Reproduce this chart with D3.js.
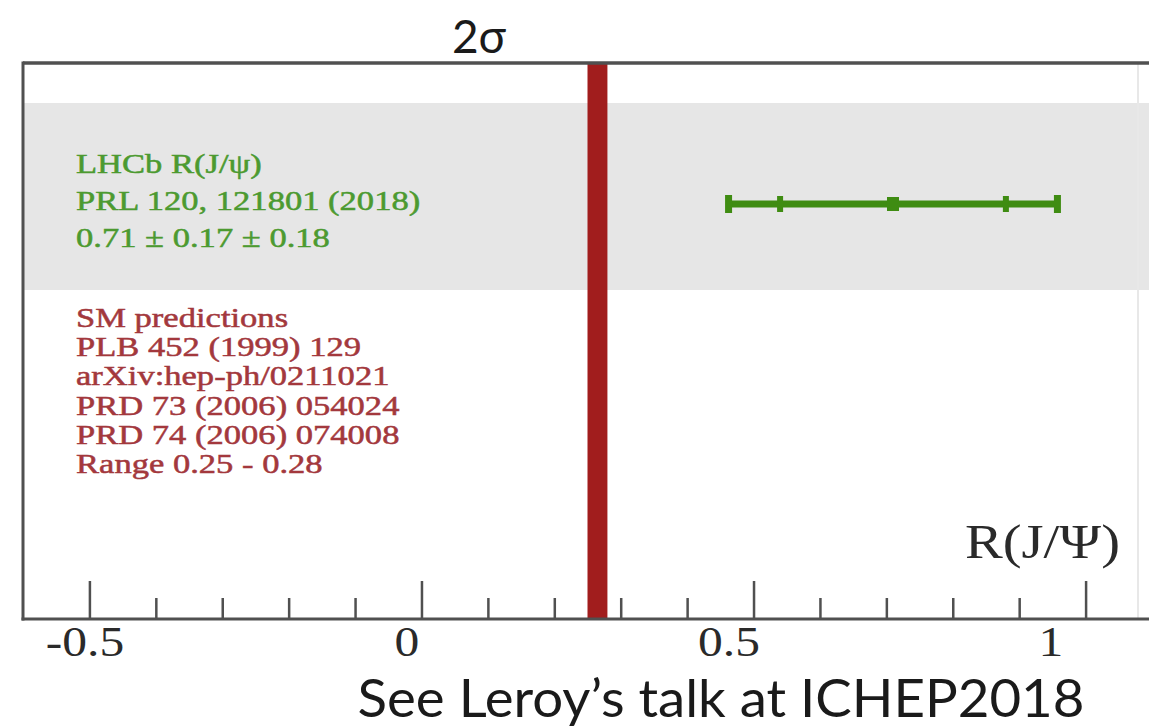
<!DOCTYPE html>
<html>
<head>
<meta charset="utf-8">
<script src="https://cdn.jsdelivr.net/npm/d3@7"></script>
<style>
  html, body { margin: 0; padding: 0; background: #fff; overflow: hidden; }
  svg { display: block; }
</style>
</head>
<body>
<svg id="chart" width="1149" height="728"></svg>
<script>
// ---- data ----
const majorTicks = [-0.5, 0, 0.5, 1];
const majorTickLabels = ["-0.5", "0", "0.5", "1"];
const minorTicks = [-0.4, -0.3, -0.2, -0.1, 0.1, 0.2, 0.3, 0.4, 0.6, 0.7, 0.8, 0.9];

const lhcbValue = 0.71;
const lhcbStat = 0.17;
const lhcbSyst = 0.18;
const smRange = [0.25, 0.28];

const lhcbLines = ["LHCb R(J/ψ)", "PRL 120, 121801 (2018)", "0.71 ± 0.17 ± 0.18"];
const smLines = ["SM predictions", "PLB 452 (1999) 129", "arXiv:hep-ph/0211021",
                 "PRD 73 (2006) 054024", "PRD 74 (2006) 074008", "Range 0.25 - 0.28"];
const axisTitle = "R(J/Ψ)";
const sigmaLabel = "2σ";
const footerText = "See Leroy’s talk at ICHEP2018";

// ---- layout ----
const W = 1149, H = 728;
const frame = { left: 23, top: 63, bottom: 619, right: 1149, edge: 1138 };
const band = { top: 103, bottom: 290, rowY: 204 };

const svg = d3.select("#chart");
const x = d3.scaleLinear().domain([-0.6, 1.1]).range([frame.left, 1152]);
const xLabel = d3.scaleLinear().domain([0, 1]).range([407, 1051]);

const green = "#3f8c12", greenText = "#4c9a30";
const red = "#a11d1d", redText = "#a3383d";
const frameColor = "#505050";

// grey row behind the measurement
svg.append("rect")
  .attr("x", frame.left).attr("y", band.top)
  .attr("width", W - frame.left).attr("height", band.bottom - band.top)
  .attr("fill", "#e6e6e6");

// faint right border
svg.append("line")
  .attr("x1", frame.edge).attr("x2", frame.edge)
  .attr("y1", frame.top).attr("y2", frame.bottom)
  .attr("stroke", "#e8e8e8").attr("stroke-width", 2);

// SM prediction band
svg.append("rect")
  .attr("x", x(smRange[0])).attr("y", frame.top)
  .attr("width", x(smRange[1]) - x(smRange[0]))
  .attr("height", frame.bottom - frame.top)
  .attr("fill", red);

// frame: top, left, bottom
svg.append("line")
  .attr("x1", frame.left).attr("x2", frame.right)
  .attr("y1", frame.top).attr("y2", frame.top)
  .attr("stroke", frameColor).attr("stroke-width", 3.5);
svg.append("line")
  .attr("x1", frame.left).attr("x2", frame.left)
  .attr("y1", frame.top - 1.5).attr("y2", frame.bottom + 1.5)
  .attr("stroke", frameColor).attr("stroke-width", 3);

// axis: major and minor ticks pointing up into the frame
const axisG = svg.append("g").attr("transform", `translate(0,${frame.bottom})`);
axisG.call(d3.axisTop(x).tickValues(majorTicks).tickSize(38).tickFormat(""))
  .call(g => g.select(".domain").remove())
  .call(g => g.selectAll(".tick line").attr("stroke", frameColor).attr("stroke-width", 2.5));
const minorG = svg.append("g").attr("transform", `translate(0,${frame.bottom})`);
minorG.call(d3.axisTop(x).tickValues(minorTicks).tickSize(21).tickFormat(""))
  .call(g => g.select(".domain").remove())
  .call(g => g.selectAll(".tick line").attr("stroke", frameColor).attr("stroke-width", 2.5));
svg.append("line")
  .attr("x1", frame.left - 1.5).attr("x2", frame.right)
  .attr("y1", frame.bottom).attr("y2", frame.bottom)
  .attr("stroke", frameColor).attr("stroke-width", 3);

// tick labels
svg.append("g").selectAll("text")
  .data(majorTicks)
  .join("text")
  .attr("transform", (d) => `translate(${xLabel(d)},656) scale(1.18,1)`)
  .attr("text-anchor", "middle")
  .attr("font-family", "'Liberation Serif', 'Times New Roman', serif")
  .attr("font-size", 42)
  .attr("fill", "#2a2a2a")
  .text((d, i) => majorTickLabels[i]);

// axis title
svg.append("text")
  .attr("transform", "translate(1120,558) scale(1.18,1)")
  .attr("text-anchor", "end")
  .attr("font-family", "'Liberation Serif', 'Times New Roman', serif")
  .attr("font-size", 48)
  .attr("fill", "#2a2a2a")
  .text(axisTitle);

// LHCb measurement: total error bar, stat ticks, central marker
const total = Math.sqrt(lhcbStat * lhcbStat + lhcbSyst * lhcbSyst);
const eg = svg.append("g");
eg.append("line")
  .attr("x1", x(lhcbValue - total)).attr("x2", x(lhcbValue + total))
  .attr("y1", band.rowY).attr("y2", band.rowY)
  .attr("stroke", green).attr("stroke-width", 7);
eg.selectAll("rect.cap")
  .data([lhcbValue - total, lhcbValue + total])
  .join("rect").attr("class", "cap")
  .attr("x", d => x(d) - 3.5).attr("y", band.rowY - 9)
  .attr("width", 7).attr("height", 18).attr("fill", green);
eg.selectAll("rect.stat")
  .data([lhcbValue - lhcbStat, lhcbValue + lhcbStat])
  .join("rect").attr("class", "stat")
  .attr("x", d => x(d) - 3).attr("y", band.rowY - 8)
  .attr("width", 6).attr("height", 16).attr("fill", green);
eg.append("rect")
  .attr("x", x(lhcbValue) - 6).attr("y", band.rowY - 7)
  .attr("width", 12).attr("height", 14).attr("fill", green);

// legend texts
const legendFont = "'Liberation Serif', 'Times New Roman', serif";
svg.append("g").selectAll("text")
  .data(lhcbLines)
  .join("text")
  .attr("transform", (d, i) => `translate(76,${173 + i * 37}) scale(1.28,1)`)
  .attr("font-family", legendFont)
  .attr("font-size", 27)
  .attr("fill", greenText)
  .attr("stroke", greenText).attr("stroke-width", 0.5)
  .text(d => d);
svg.append("g").selectAll("text")
  .data(smLines)
  .join("text")
  .attr("transform", (d, i) => `translate(76,${327 + i * 29.2}) scale(1.28,1)`)
  .attr("font-family", legendFont)
  .attr("font-size", 27)
  .attr("fill", redText)
  .attr("stroke", redText).attr("stroke-width", 0.5)
  .text(d => d);

// annotations above and below the plot
svg.append("text")
  .attr("x", 479).attr("y", 53)
  .attr("text-anchor", "middle")
  .attr("font-family", "Lato, 'Open Sans', sans-serif")
  .attr("font-size", 46)
  .attr("fill", "#1a1a1a")
  .text(sigmaLabel);
svg.append("text")
  .attr("transform", "translate(721,717) scale(1.05,1)")
  .attr("text-anchor", "middle")
  .attr("font-family", "Lato, 'Open Sans', sans-serif")
  .attr("font-size", 52)
  .attr("fill", "#1a1a1a")
  .text(footerText);
</script>
</body>
</html>
